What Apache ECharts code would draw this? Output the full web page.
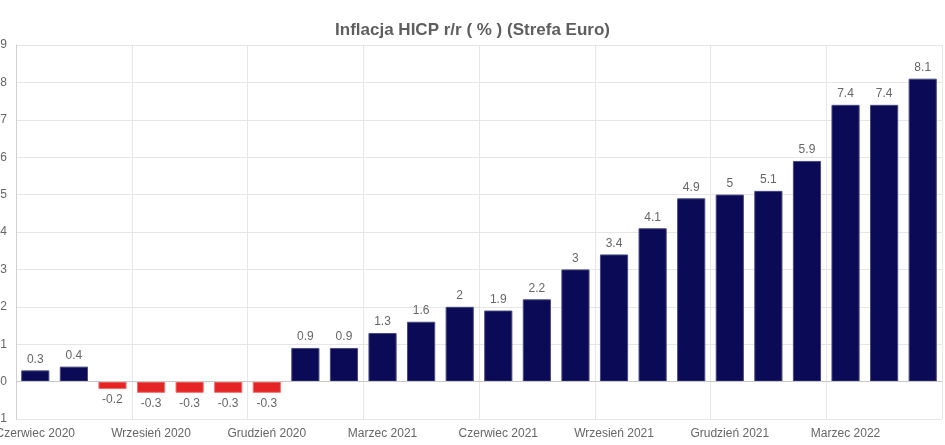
<!DOCTYPE html>
<html><head><meta charset="utf-8">
<script src="https://cdn.jsdelivr.net/npm/echarts@6/dist/echarts.min.js"></script>
<style>html,body{margin:0;padding:0;background:#fff}#c{width:945px;height:445px}</style>
</head><body><div id="c"></div>
<script>
var titleText = 'Inflacja HICP r/r ( % ) (Strefa Euro)';
var categories = ['Czerwiec 2020','Lipiec 2020','Sierpień 2020','Wrzesień 2020','Październik 2020','Listopad 2020','Grudzień 2020','Styczeń 2021','Luty 2021','Marzec 2021','Kwiecień 2021','Maj 2021','Czerwiec 2021','Lipiec 2021','Sierpień 2021','Wrzesień 2021','Październik 2021','Listopad 2021','Grudzień 2021','Styczeń 2022','Luty 2022','Marzec 2022','Kwiecień 2022','Maj 2022'];
var values = [0.3,0.4,-0.2,-0.3,-0.3,-0.3,-0.3,0.9,0.9,1.3,1.6,2,1.9,2.2,3,3.4,4.1,4.9,5,5.1,5.9,7.4,7.4,8.1];
var posColor = '#0a0a56', negColor = '#e52424';
var data = values.map(function(v){
  return {value:v,
    itemStyle:{color: v<0?negColor:posColor, borderColor: v<0?'#f07070':'#4a4a80', borderWidth:1},
    label:{position: v<0?'bottom':'top'}};
});
var chart = echarts.init(document.getElementById('c'));
chart.setOption({
  animation:false,
  title:{text:titleText,left:'center',top:17,textStyle:{fontFamily:'Liberation Sans, Arial, sans-serif',fontSize:17,fontWeight:'bold',color:'#5e5e5e'}},
  grid:{left:16,right:3,top:45,bottom:26,containLabel:false,outerBoundsMode:'none'},
  xAxis:{type:'category',data:categories,
    axisLine:{show:false},axisTick:{show:false},
    axisLabel:{interval:2,color:'#666',fontSize:12,fontFamily:'Liberation Sans, Arial, sans-serif',margin:9,hideOverlap:false},
    splitLine:{show:true,interval:2,lineStyle:{color:'#e6e6e6'}}},
  yAxis:{type:'value',min:-1,max:9,interval:1,
    axisLine:{show:true,lineStyle:{color:'#d0d0d0'}},axisTick:{show:false},
    axisLabel:{color:'#666',fontSize:12,fontFamily:'Liberation Sans, Arial, sans-serif',margin:9},
    splitLine:{lineStyle:{color:'#e6e6e6'}}},
  series:[{type:'bar',data:data,barCategoryGap:'27%',
    label:{show:true,color:'#666',fontSize:12,fontFamily:'Liberation Sans, Arial, sans-serif',distance:5},
    markLine:{silent:true,symbol:'none',label:{show:false},lineStyle:{color:'#c8c8c8',type:'solid',width:1},data:[{yAxis:0}]}
  }]
});
</script></body></html>
